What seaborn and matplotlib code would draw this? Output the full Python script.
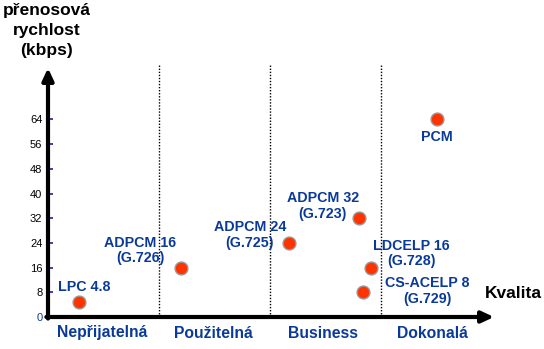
import matplotlib
matplotlib.use("Agg")
import matplotlib.pyplot as plt
import seaborn as sns
import pandas as pd

# ---- data ----
codecs = ["LPC 4.8", "ADPCM 16\n(G.726)", "ADPCM 24\n(G.725)", "ADPCM 32\n(G.723)",
          "LDCELP 16\n(G.728)", "CS-ACELP 8\n(G.729)", "PCM"]
quality = [0.28, 1.20, 2.17, 2.80, 2.91, 2.835, 3.50]
rate_kbps = [4.8, 16, 24, 32, 16, 8, 64]
categories = ["Nepřijatelná", "Použitelná", "Business", "Dokonalá"]
yticks = [0, 8, 16, 24, 32, 40, 48, 56, 64]
y_title = ["přenosová", "rychlost", "(kbps)"]
x_title = "Kvalita"

# label offsets in pixels (layout only)
label_offsets = [(5, 15), (-41, 17), (-39, 8), (-36, 12), (40, 14), (65, 1), (0, -18)]

df = pd.DataFrame({"codec": codecs, "quality": quality, "rate": rate_kbps})

sns.set_theme(style="white")
plt.rcParams["font.family"] = ["Liberation Sans", "DejaVu Sans"]

BLUE = "#0a3a99"
fig = plt.figure(figsize=(5.44, 3.49), dpi=100)
ax = fig.add_axes([0, 0, 1, 1])
ppx = 111.0   # px per quality unit
ppy = 24.7 / 8  # px per kbps
x0, y0 = 48, 32
ax.set_xlim(-x0 / ppx, (544 - x0) / ppx)
ax.set_ylim(-y0 / ppy, (349 - y0) / ppy)

for s in ["top", "right", "bottom", "left"]:
    ax.spines[s].set_visible(False)
ax.spines["left"].set_position(("data", 0))
ax.set_xticks([])
ax.set_yticks(yticks)
ax.set_yticklabels([str(v) for v in yticks], fontsize=8)
ax.tick_params(axis="y", direction="in", length=3.5, width=1.3, color="#333399",
               pad=4, left=True)
for lbl in ax.get_yticklabels():
    lbl.set_color("black")
ax.get_yticklabels()[0].set_color(BLUE)

ytop = (317 - 68) / ppy
xend = (494 - x0) / ppx
ax.annotate("", xy=(0, ytop), xytext=(0, -0.5),
            arrowprops=dict(arrowstyle="-|>,head_length=0.6,head_width=0.28", lw=3, color="black",
                            shrinkA=0, shrinkB=0))
ax.annotate("", xy=(xend, 0), xytext=(-0.015, 0),
            arrowprops=dict(arrowstyle="-|>,head_length=0.6,head_width=0.28", lw=3, color="black",
                            shrinkA=0, shrinkB=0))

dtop = (317 - 65) / ppy
for i in range(1, len(categories)):
    ax.plot([i, i], [0, dtop], linestyle=(0, (1, 1.2)), color="black", lw=1, zorder=1)

sns.scatterplot(data=df, x="quality", y="rate", ax=ax, s=85, color="#ff3300",
                edgecolor="#999999", linewidth=1, zorder=5, legend=False)

for name, xq, yr, off in zip(codecs, quality, rate_kbps, label_offsets):
    ax.annotate(name, xy=(xq, yr), xytext=off, textcoords="offset pixels",
                ha="center", va="center", fontsize=10.3, fontweight="bold",
                color=BLUE, linespacing=1.15)

cat_x = [0.49, 1.49, 2.48, 3.46]
for c, cx in zip(categories, cat_x):
    ax.text(cx, -16 / ppy, c, ha="center", va="center", fontsize=11.3,
            fontweight="bold", color=BLUE)

ax.text((513 - x0) / ppx, (317 - 293) / ppy, x_title, ha="center", va="center",
        fontsize=12.5, fontweight="bold", color="black")
for line, ypx in zip(y_title, [10, 30, 51]):
    ax.text((46.5 - x0) / ppx, (317 - ypx) / ppy, line, ha="center", va="center",
            fontsize=12.5, fontweight="bold", color="black")

ax.set_xlabel("")
ax.set_ylabel("")
fig.savefig("out.png", dpi=100, facecolor="white")
